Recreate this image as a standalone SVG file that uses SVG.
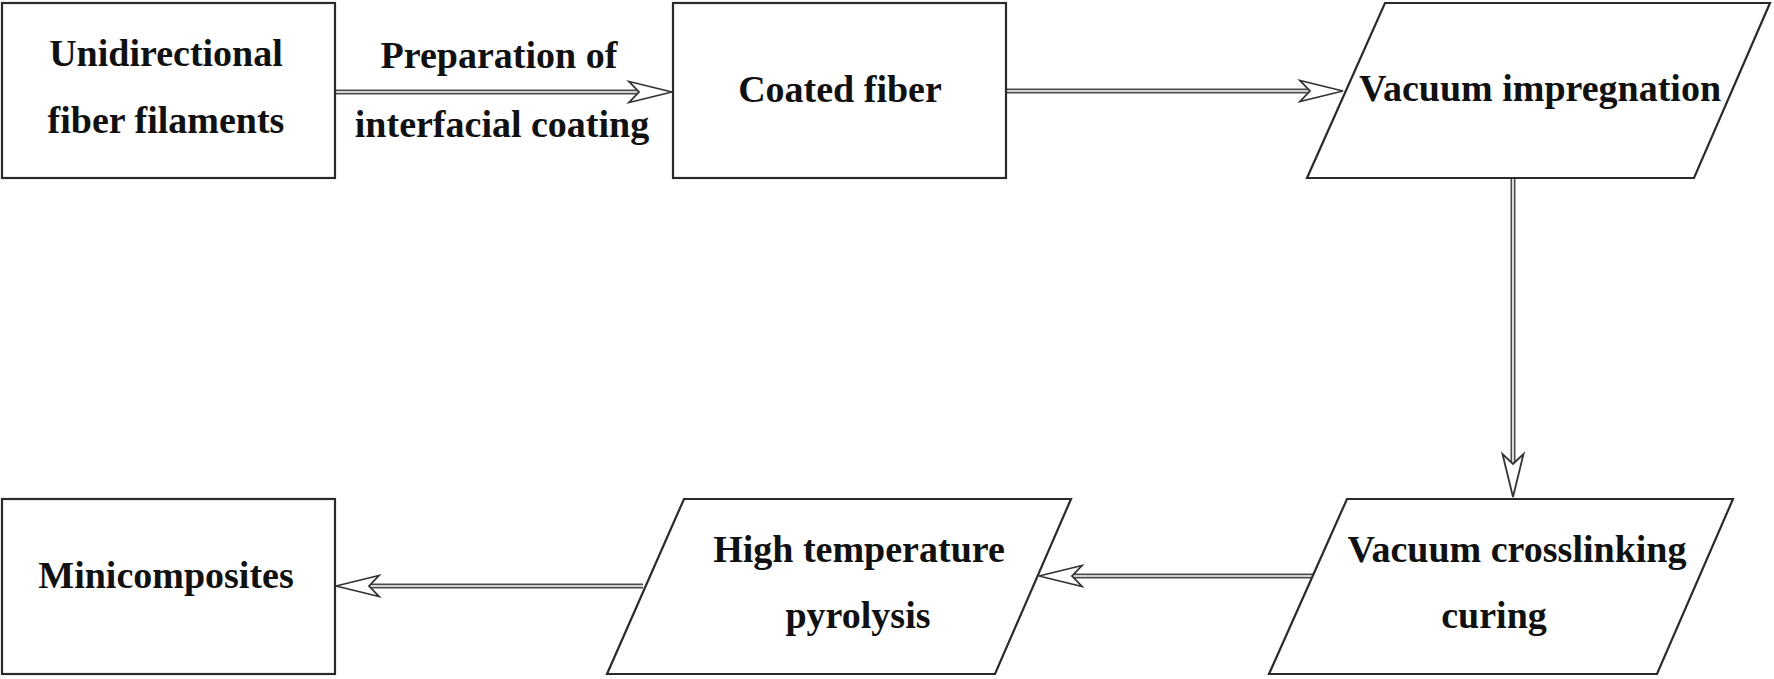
<svg xmlns="http://www.w3.org/2000/svg" xmlns:xlink="http://www.w3.org/1999/xlink" width="1774" height="679" viewBox="0 0 1774 679">
<style>
.node{fill:#fff;stroke:#2a2a2a;stroke-width:2.2}
.lbl{font-family:"Liberation Serif","Times New Roman",serif;font-weight:bold;font-size:38px;fill:#111;text-anchor:middle}
.shaft-o{stroke:#4a4a4a;stroke-width:5;fill:none}
.shaft-i{stroke:#fff;stroke-width:1.6;fill:none}
.head{fill:#fff;stroke:#333;stroke-width:1.8;stroke-linejoin:miter}
</style>
<defs>
<path id="ah" class="head" d="M0,0 L-43,-10.5 L-33,0 L-43,10.5 Z"/>
</defs>
<rect width="1774" height="679" fill="#fff"/>
<g id="connectors">
<line class="shaft-o" x1="335" y1="92" x2="640" y2="92"/>
<line class="shaft-i" x1="335" y1="92" x2="640" y2="92"/>
<use xlink:href="#ah" transform="translate(672,92)"/>

<line class="shaft-o" x1="1006" y1="91" x2="1312" y2="91"/>
<line class="shaft-i" x1="1006" y1="91" x2="1312" y2="91"/>
<use xlink:href="#ah" transform="translate(1343,91)"/>

<line class="shaft-o" x1="1513" y1="178" x2="1513" y2="465"/>
<line class="shaft-i" x1="1513" y1="178" x2="1513" y2="465"/>
<use xlink:href="#ah" transform="translate(1513,497) rotate(90)"/>

<line class="shaft-o" x1="1313" y1="576" x2="1072" y2="576"/>
<line class="shaft-i" x1="1313" y1="576" x2="1072" y2="576"/>
<use xlink:href="#ah" transform="translate(1039,576) rotate(180)"/>

<line class="shaft-o" x1="643" y1="586" x2="368" y2="586"/>
<line class="shaft-i" x1="643" y1="586" x2="368" y2="586"/>
<use xlink:href="#ah" transform="translate(336,586) rotate(180)"/>
</g>
<g id="label-preparation">
<text class="lbl" x="499" y="68">Preparation of</text>
<text class="lbl" x="502" y="137">interfacial coating</text>
</g>
<g id="node-unidirectional">
<rect class="node" x="2" y="3" width="333" height="175"/>
<text class="lbl" x="166" y="66">Unidirectional</text>
<text class="lbl" x="166" y="133">fiber filaments</text>
</g>
<g id="node-coated">
<rect class="node" x="673" y="3" width="333" height="175"/>
<text class="lbl" x="840" y="102">Coated fiber</text>
</g>
<g id="node-impregnation">
<polygon class="node" points="1385,3 1770,3 1694,178 1307,178"/>
<text class="lbl" x="1540" y="101">Vacuum impregnation</text>
</g>
<g id="node-crosslinking">
<polygon class="node" points="1347,499 1733,499 1657,674 1269,674"/>
<text class="lbl" x="1517" y="562">Vacuum crosslinking</text>
<text class="lbl" x="1494" y="628">curing</text>
</g>
<g id="node-pyrolysis">
<polygon class="node" points="684,499 1071,499 995,674 607,674"/>
<text class="lbl" x="859" y="562">High temperature</text>
<text class="lbl" x="858" y="628">pyrolysis</text>
</g>
<g id="node-minicomposites">
<rect class="node" x="2" y="499" width="333" height="175"/>
<text class="lbl" x="166" y="588">Minicomposites</text>
</g>
</svg>
